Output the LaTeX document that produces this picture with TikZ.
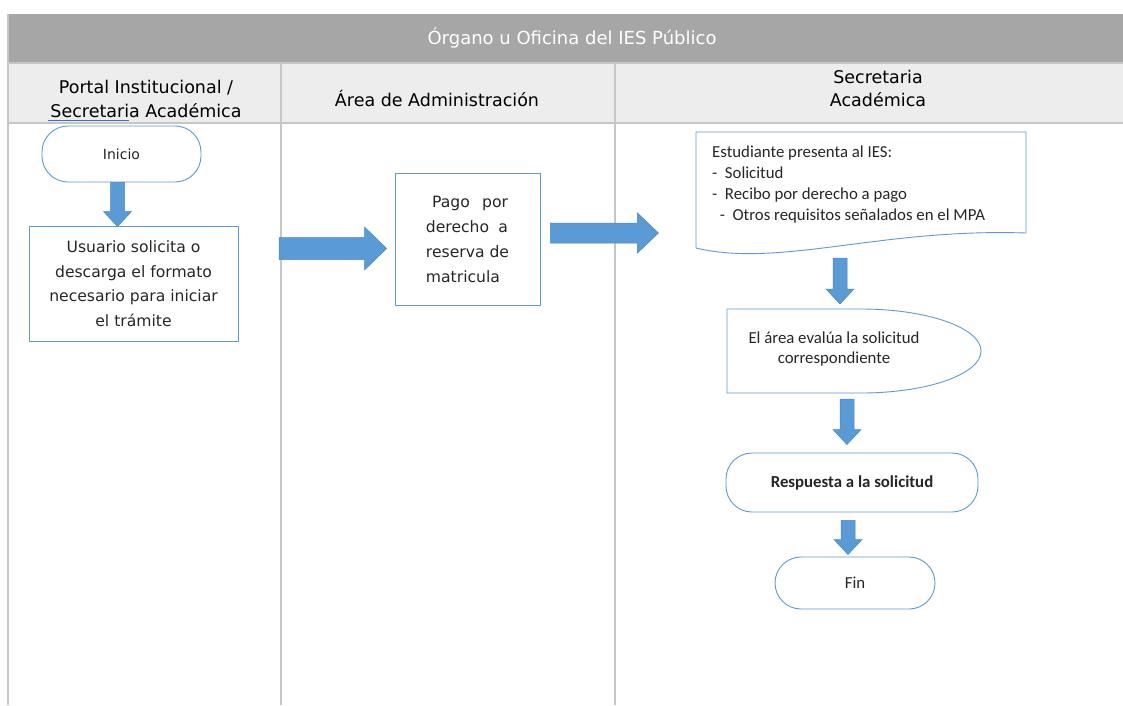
\documentclass[tikz,border=0pt]{standalone}
\usepackage{fontspec}
\setmainfont{Carlito}
\newfontfamily\hdfont{DejaVu Sans}
\usetikzlibrary{calc}
\definecolor{blk}{HTML}{5B9BD5}
\definecolor{blkedge}{HTML}{4A86C0}
\definecolor{gridc}{HTML}{C6C6C6}
\definecolor{titlebg}{HTML}{A6A6A6}
\definecolor{headbg}{HTML}{EDEDED}
\definecolor{txt}{HTML}{262626}
\definecolor{spell}{HTML}{3B6FD8}
\tikzset{
  boxnode/.style={draw=blk, line width=0.9pt, fill=white, text=txt, inner sep=0pt},
  term/.style={boxnode, rounded corners=26pt},
  lanetext/.style={font=\hdfont\fontsize{17.5}{24}\selectfont, align=center, text=black},
  blockarrow/.style={fill=blk, draw=blkedge, line width=0.5pt},
  gridline/.style={draw=gridc, line width=1.1pt},
  bodyfont/.style={font=\fontsize{16.8}{21}\selectfont},
}
% vertical block arrow: start, end
\newcommand\varrow[2]{\path[blockarrow] let \p1=(#1), \p2=(#2) in
  (\x1-7pt,\y1) -- (\x1+7pt,\y1) -- (\x1+7pt,\y2+15pt) -- (\x1+14pt,\y2+15pt) -- (\x1,\y2)
  -- (\x1-14pt,\y2+15pt) -- (\x1-7pt,\y2+15pt) -- cycle;}
% horizontal block arrow: start, end, shaft half, head half, head length
\newcommand\harrow[5]{\path[blockarrow] let \p1=(#1), \p2=(#2) in
  (\x1,\y1+#3) -- (\x2-#5,\y1+#3) -- (\x2-#5,\y1+#4) -- (\x2,\y1) -- (\x2-#5,\y1-#4)
  -- (\x2-#5,\y1-#3) -- (\x1,\y1-#3) -- cycle;}
\begin{document}
\begin{tikzpicture}[x=1pt,y=-1pt]
\useasboundingbox (0,0) rectangle (1123,705);
\fill[white] (0,0) rectangle (1123,705);
% title bar and header row
\fill[titlebg] (8,14) rectangle (1123,63);
\fill[headbg] (8,63) rectangle (1123,123);
\node[font=\hdfont\fontsize{18}{20}\selectfont, text=white] (title) at (572,38.5) {Órgano u Oficina del IES Público};
% grid
\draw[gridline] (8,14) -- (8,705);
\draw[gridline] (281,63) -- (281,705);
\draw[gridline] (615,63) -- (615,705);
\draw[gridline] (8,63) -- (1123,63);
\draw[gridline] (8,123) -- (1123,123);
% lane headers
\node[lanetext] (h1) at (146,99) {Portal Institucional /\\Secretaria Académica};
\node[lanetext] (h2) at (437,99) {Área de Administración};
\node[lanetext, font=\hdfont\fontsize{17.5}{23}\selectfont] (h3) at (878,88.5) {Secretaria\\Académica};
\draw[spell, line width=1pt] (48,120) -- (129,120);
% lane 1
\node[term, minimum width=159pt, minimum height=56pt, font=\hdfont\fontsize{14}{16}\selectfont] (inicio) at (121.5,154) {Inicio};
\node[boxnode, minimum width=209pt, minimum height=115pt, align=center,
      font=\hdfont\fontsize{15.6}{24.5}\selectfont] (usuario) at (133.5,283.5)
  {Usuario solicita o\\descarga el formato\\necesario para iniciar\\el trámite};
\varrow{$(inicio.south)+(-4,0)$}{$(usuario.north)+(-19.5,1)$}
% lane 2
\node[boxnode, minimum width=145pt, minimum height=132pt, align=left,
      font=\hdfont\fontsize{15.6}{25}\selectfont] (pago) at (467.5,239)
  {\makebox[82pt][s]{\ Pago \ por}\\\makebox[82pt][s]{derecho \ a}\\reserva de\\matricula};
\coordinate (a1s) at (279,248.5);
\harrow{a1s}{$(pago.west)+(-8,9.5)$}{11pt}{21.5pt}{22pt}
\harrow{$(pago.east)+(10,-6)$}{$(pago.east)+(118,-6)$}{10pt}{20pt}{21pt}
% lane 3: document
\draw[draw=blk, line width=0.9pt, fill=white] (696,132) -- (1026,132) -- (1026,233)
  .. controls (880,228) and (780,268) .. (696,248) -- cycle;
\node[bodyfont, align=left, text=txt, anchor=north west, inner sep=0pt] (doc) at (712,146)
  {Estudiante presenta al IES:\\-\ \ Solicitud\\-\ \ Recibo por derecho a pago\\\ \ -\ \ Otros requisitos señalados en el MPA};
\coordinate (docb) at (840,258);
% delay shape
\draw[draw=blk, line width=0.9pt, fill=white] (727,309) -- (861,309)
  arc[start angle=90, end angle=-90, x radius=120pt, y radius=42pt] -- (727,393) -- cycle;
\node[align=center, text=txt, font=\fontsize{16.8}{20.5}\selectfont] (eval) at (834,349) {El área evalúa la solicitud\\correspondiente};
\coordinate (evaltop) at (838.5,304);
\varrow{docb}{evaltop}
\node[term, minimum width=252pt, minimum height=59pt, font=\bfseries\fontsize{16.8}{19}\selectfont] (resp) at (852,482.5) {Respuesta a la solicitud};
\coordinate (evalb) at (847,399);
\varrow{evalb}{$(resp.north)+(-5,-8)$}
\node[term, minimum width=160pt, minimum height=52pt, font=\fontsize{16.8}{19}\selectfont] (fin) at (855,583) {Fin};
\varrow{$(resp.south)+(-4,8)$}{$(fin.north)+(-7,-2)$}
\end{tikzpicture}
\end{document}
